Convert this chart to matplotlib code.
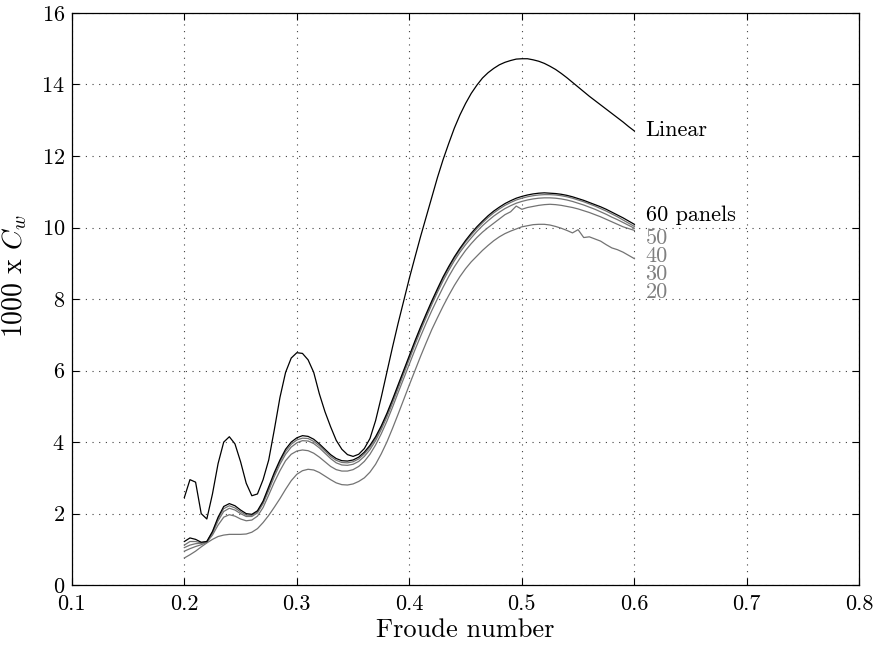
#!/usr/bin/env python3

import numpy as np
import matplotlib
matplotlib.use('Agg')
import matplotlib.pyplot as plt

plt.rcParams['font.family'] = 'cmr10'
plt.rcParams['mathtext.fontset'] = 'cm'
plt.rcParams['axes.formatter.use_mathtext'] = True

# Froude numbers 0.200 ... 0.600 in steps of 0.005
froude = np.round(np.arange(0.2, 0.6001, 0.005), 3)

cw_linear = [2.45, 2.95, 2.88, 2.00, 1.85, 2.55, 3.40, 4.00, 4.15, 3.95,
             3.45, 2.85, 2.50, 2.55, 2.95, 3.50, 4.35, 5.25, 5.95, 6.35,
             6.50, 6.48, 6.30, 5.95, 5.35, 4.85, 4.43, 4.05, 3.80, 3.65,
             3.60, 3.66, 3.82, 4.10, 4.60, 5.25, 5.95, 6.65, 7.32, 7.95,
             8.58, 9.17, 9.75, 10.30, 10.85, 11.40, 11.90, 12.35, 12.78, 13.15,
             13.47, 13.75, 13.98, 14.18, 14.33, 14.45, 14.55, 14.62, 14.67, 14.71,
             14.72, 14.72, 14.69, 14.65, 14.59, 14.51, 14.42, 14.31, 14.19, 14.06,
             13.93, 13.80, 13.67, 13.55, 13.43, 13.31, 13.19, 13.07, 12.95, 12.82,
             12.70]

cw_60 = [1.22, 1.32, 1.28, 1.20, 1.22, 1.50, 1.90, 2.20, 2.28, 2.22,
         2.10, 2.00, 1.98, 2.08, 2.35, 2.75, 3.15, 3.50, 3.80, 4.00,
         4.12, 4.18, 4.16, 4.08, 3.95, 3.80, 3.65, 3.54, 3.48, 3.47,
         3.50, 3.58, 3.72, 3.91, 4.15, 4.45, 4.80, 5.19, 5.60, 6.01,
         6.42, 6.83, 7.22, 7.59, 7.95, 8.29, 8.62, 8.91, 9.18, 9.42,
         9.64, 9.84, 10.02, 10.18, 10.33, 10.46, 10.57, 10.67, 10.75, 10.82,
         10.87, 10.91, 10.94, 10.96, 10.97, 10.96, 10.95, 10.93, 10.90, 10.86,
         10.81, 10.76, 10.70, 10.64, 10.58, 10.51, 10.43, 10.35, 10.27, 10.18,
         10.09]

cw_50 = [1.12, 1.22, 1.22, 1.18, 1.22, 1.48, 1.86, 2.14, 2.22, 2.16,
         2.05, 1.96, 1.95, 2.05, 2.32, 2.70, 3.10, 3.45, 3.74, 3.94,
         4.06, 4.11, 4.10, 4.02, 3.90, 3.75, 3.60, 3.49, 3.43, 3.42,
         3.45, 3.53, 3.67, 3.86, 4.10, 4.41, 4.76, 5.15, 5.56, 5.97,
         6.38, 6.79, 7.18, 7.55, 7.91, 8.25, 8.58, 8.87, 9.14, 9.38,
         9.60, 9.79, 9.97, 10.13, 10.28, 10.41, 10.52, 10.62, 10.70, 10.77,
         10.82, 10.86, 10.89, 10.91, 10.92, 10.92, 10.91, 10.89, 10.86, 10.82,
         10.77, 10.72, 10.66, 10.60, 10.53, 10.46, 10.38, 10.30, 10.21, 10.12,
         10.03]

cw_40 = [1.05, 1.12, 1.16, 1.17, 1.21, 1.45, 1.80, 2.06, 2.15, 2.10,
         2.00, 1.92, 1.92, 2.02, 2.28, 2.65, 3.04, 3.38, 3.66, 3.86,
         3.98, 4.04, 4.03, 3.96, 3.84, 3.69, 3.54, 3.42, 3.36, 3.35,
         3.38, 3.46, 3.60, 3.79, 4.04, 4.35, 4.70, 5.09, 5.50, 5.91,
         6.32, 6.73, 7.12, 7.49, 7.85, 8.19, 8.51, 8.80, 9.07, 9.31,
         9.52, 9.71, 9.89, 10.05, 10.19, 10.32, 10.43, 10.53, 10.61, 10.68,
         10.73, 10.77, 10.80, 10.82, 10.83, 10.83, 10.82, 10.80, 10.77, 10.73,
         10.68, 10.63, 10.57, 10.51, 10.44, 10.37, 10.29, 10.22, 10.14, 10.06,
         9.98]

cw_30 = [0.95, 1.02, 1.08, 1.13, 1.20, 1.40, 1.68, 1.90, 1.97, 1.93,
         1.85, 1.80, 1.82, 1.93, 2.17, 2.52, 2.88, 3.20, 3.48, 3.66,
         3.75, 3.78, 3.76, 3.69, 3.58, 3.45, 3.32, 3.23, 3.19, 3.19,
         3.23, 3.32, 3.46, 3.66, 3.92, 4.23, 4.58, 4.97, 5.38, 5.78,
         6.18, 6.58, 6.96, 7.33, 7.68, 8.01, 8.33, 8.63, 8.90, 9.14,
         9.36, 9.55, 9.72, 9.87, 10.00, 10.12, 10.24, 10.36, 10.44, 10.60,
         10.51, 10.56, 10.59, 10.62, 10.64, 10.65, 10.64, 10.62, 10.59, 10.56,
         10.52, 10.47, 10.42, 10.36, 10.30, 10.23, 10.16, 10.09, 10.02, 9.97,
         9.92]

cw_20 = [0.76, 0.85, 0.95, 1.07, 1.18, 1.28, 1.36, 1.40, 1.42, 1.42,
         1.42, 1.43, 1.48, 1.58, 1.75, 1.95, 2.18, 2.42, 2.68, 2.92,
         3.10, 3.20, 3.24, 3.22, 3.15, 3.05, 2.95, 2.86, 2.81, 2.80,
         2.83, 2.90, 3.00, 3.16, 3.38, 3.67, 4.00, 4.38, 4.78, 5.19,
         5.60, 6.00, 6.40, 6.78, 7.15, 7.48, 7.80, 8.10, 8.38, 8.63,
         8.85, 9.04, 9.20, 9.36, 9.50, 9.63, 9.74, 9.83, 9.90, 9.96,
         10.02, 10.05, 10.08, 10.09, 10.09, 10.07, 10.03, 9.98, 9.92, 9.85,
         9.94, 9.72, 9.74, 9.68, 9.62, 9.52, 9.43, 9.38, 9.31, 9.22,
         9.13]

labels = ['Linear', '60 panels', '50', '40', '30', '20']
label_y = [12.72, 10.34, 9.70, 9.20, 8.69, 8.19]

series = [cw_linear, cw_60, cw_50, cw_40, cw_30, cw_20]
line_colors = ['k', 'k', '0.45', '0.45', '0.45', '0.45']
text_colors = ['k', 'k', '0.5', '0.5', '0.5', '0.5']

fig = plt.figure(figsize=(8.76, 6.48), dpi=100)
ax = fig.add_axes([0.082, 0.097, 0.899, 0.883])

# grey curves first so the black ones end up on top
for ys, c in reversed(list(zip(series, line_colors))):
    ax.plot(froude, ys, color=c, lw=0.9)

for lab, ly, c in zip(labels, label_y, text_colors):
    ax.text(0.61, ly, lab, color=c, fontsize=16, va='center', ha='left')

ax.set_xlim(0.1, 0.8)
ax.set_ylim(0, 16)
ax.set_xticks(np.arange(0.1, 0.801, 0.1))
ax.set_xticklabels(['0.1', '0.2', '0.3', '0.4', '0.5', '0.6', '0.7', '0.8'])
ax.set_yticks(range(0, 17, 2))
ax.grid(True, linestyle=(0, (1, 5)), color='0.25', lw=0.8)
ax.tick_params(direction='in', length=5, width=0.8, labelsize=16,
               top=True, right=True, pad=5)
ax.tick_params(axis='x', pad=7)
for sp in ax.spines.values():
    sp.set_linewidth(0.9)

ax.set_xlabel('Froude number', fontsize=19, labelpad=3)
ax.set_ylabel('1000 x $C_w$', fontsize=20)
ax.yaxis.set_label_coords(-0.055, 0.54)

fig.savefig('out.png', dpi=100)
